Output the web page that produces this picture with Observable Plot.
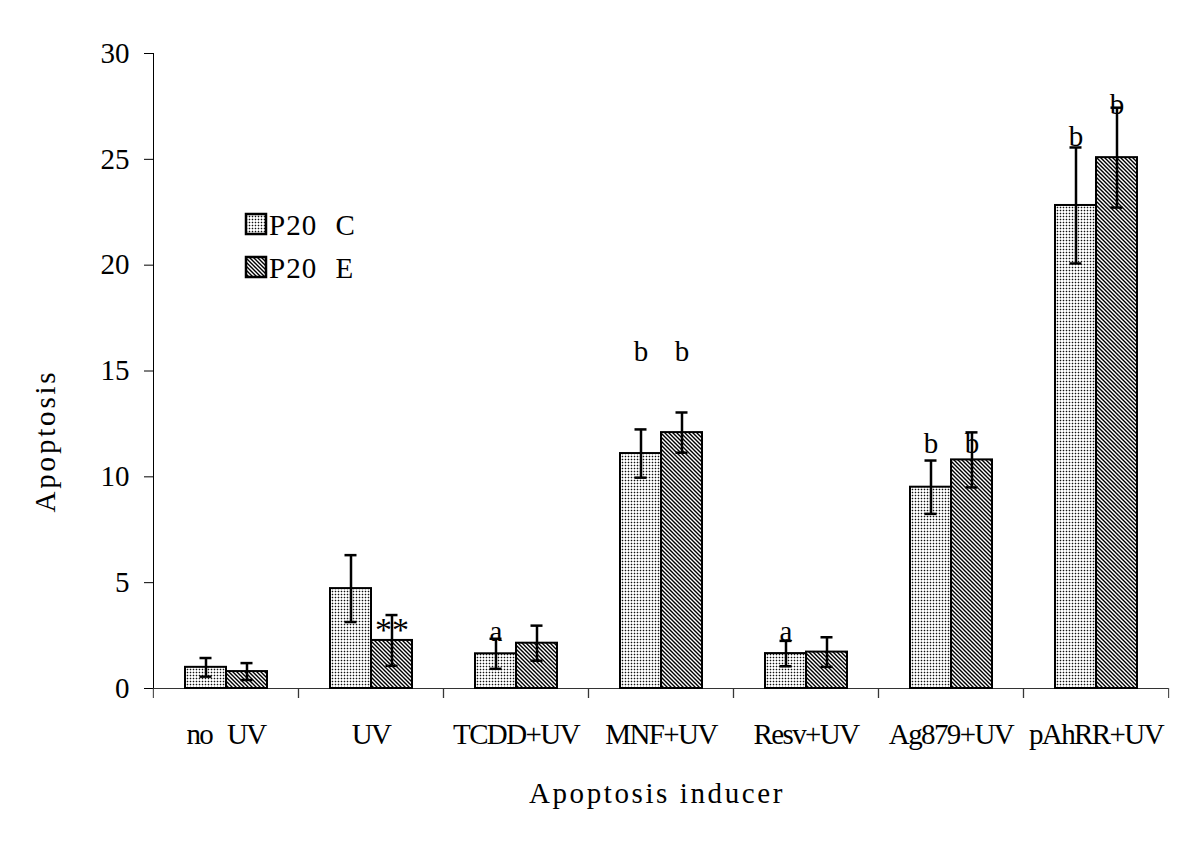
<!DOCTYPE html>
<html>
<head>
<meta charset="utf-8">
<script src="https://cdn.jsdelivr.net/npm/d3@7"></script>
<script src="https://cdn.jsdelivr.net/npm/@observablehq/plot@0.6"></script>
<style>
  html, body { margin: 0; padding: 0; background: #fff; }
  #wrap { position: relative; width: 1200px; height: 855px; overflow: hidden; }
  #overlay { position: absolute; left: 0; top: 0; pointer-events: none; }
  #defs { position: absolute; width: 0; height: 0; }
  g[aria-label="fx-axis tick label"] text { letter-spacing: -1.6px; word-spacing: 9px; }
</style>
</head>
<body>
<svg id="defs" width="0" height="0">
  <defs>
    <pattern id="dots" width="3" height="3" patternUnits="userSpaceOnUse">
      <rect width="3" height="3" fill="#ffffff"/>
      <rect width="3" height="1" fill="#c4c4c4"/>
      <rect width="1" height="3" fill="#c4c4c4"/>
      <rect width="1" height="1" fill="#111111"/>
    </pattern>
    <pattern id="hatch" width="4" height="4" patternUnits="userSpaceOnUse">
      <rect width="4" height="4" fill="#ffffff"/>
      <path d="M-1,-1 L5,5 M-1,3 L1,5 M3,-1 L5,1" stroke="#000" stroke-width="1.4"/>
    </pattern>
  </defs>
</svg>
<div id="wrap"></div>
<script>
// ---- data ----
const categories = ["no UV", "UV", "TCDD+UV", "MNF+UV", "Resv+UV", "Ag879+UV", "pAhRR+UV"];
const seriesNames = ["P20 C", "P20 E"];
const meansC = [1.0, 4.72, 1.64, 11.1, 1.65, 9.51, 22.82];
const errC   = [0.44, 1.58, 0.71, 1.14, 0.6, 1.26, 2.74];
const meansE = [0.8, 2.27, 2.14, 12.09, 1.72, 10.8, 25.08];
const errE   = [0.4, 1.2, 0.83, 0.95, 0.7, 1.3, 2.36];
const yTicks = [0, 5, 10, 15, 20, 25, 30];
// significance annotations
const annCategory = ["UV", "TCDD+UV", "MNF+UV", "MNF+UV", "Resv+UV", "Ag879+UV", "Ag879+UV", "pAhRR+UV", "pAhRR+UV"];
const annSeries   = ["P20 E", "P20 C", "P20 C", "P20 E", "P20 C", "P20 C", "P20 E", "P20 C", "P20 E"];
const annText     = ["**", "a", "b", "b", "a", "b", "b", "b", "b"];
const annY        = [2.75, 2.68, 15.9, 15.9, 2.68, 11.57, 11.57, 26.06, 27.57];

const data = categories.flatMap((c, i) => [
  {cat: c, series: seriesNames[0], value: meansC[i], err: errC[i]},
  {cat: c, series: seriesNames[1], value: meansE[i], err: errE[i]}
]);
const ann = annText.map((t, i) => ({cat: annCategory[i], series: annSeries[i], text: t, y: annY[i]}));

const W = 1200, H = 855, ML = 152, MR = 31, MT = 53, MB = 167;
const step = (W - ML - MR) / categories.length;
const FONT = "Liberation Serif, Times New Roman, serif";

const chart = Plot.plot({
  width: W, height: H,
  marginLeft: ML, marginRight: MR, marginTop: MT, marginBottom: MB,
  style: {fontFamily: FONT, fontSize: "29px", background: "#fff", color: "#000"},
  fx: {domain: categories, padding: 0, axis: null},
  x: {domain: seriesNames, paddingInner: 0, paddingOuter: 0.73, axis: null},
  y: {domain: [0, 30], ticks: yTicks, tickSize: 9, tickPadding: 15, line: true, label: null, grid: false},
  marks: [
    Plot.ruleY([0], {stroke: "#333", strokeWidth: 1.2}),
    Plot.axisFx({anchor: "bottom", tickSize: 0, tickPadding: 35, fontSize: 29, label: null}),
    Plot.axisFx({anchor: "bottom", tickSize: 10, tickFormat: () => "", dx: -step / 2, stroke: "#333", label: null}),
    Plot.axisFx({anchor: "bottom", tickSize: 10, tickFormat: () => "", dx: step / 2, stroke: "#333", label: null}),
    Plot.barY(data, {filter: d => d.series === seriesNames[0], fx: "cat", x: "series", y: "value",
      fill: "url(#dots)", stroke: "#000", strokeWidth: 2}),
    Plot.barY(data, {filter: d => d.series === seriesNames[1], fx: "cat", x: "series", y: "value",
      fill: "url(#hatch)", stroke: "#000", strokeWidth: 2}),
    Plot.ruleX(data, {fx: "cat", x: "series", y1: d => d.value - d.err, y2: d => d.value + d.err,
      stroke: "#000", strokeWidth: 2.5}),
    Plot.tickY(data, {fx: "cat", x: "series", y: d => d.value + d.err, insetLeft: 14.5, insetRight: 14.5,
      stroke: "#000", strokeWidth: 2.5}),
    Plot.tickY(data, {fx: "cat", x: "series", y: d => d.value - d.err, insetLeft: 14.5, insetRight: 14.5,
      stroke: "#000", strokeWidth: 2.5}),
    Plot.text(ann, {fx: "cat", x: "series", y: "y", text: "text", fontSize: d => d.text === "**" ? 34 : 29,
      lineAnchor: "middle", fill: "#000"})
  ]
});

const wrap = document.getElementById("wrap");
wrap.appendChild(chart);

// overlay: axis titles and legend
const ns = "http://www.w3.org/2000/svg";
const ov = document.createElementNS(ns, "svg");
ov.setAttribute("id", "overlay");
ov.setAttribute("width", W);
ov.setAttribute("height", H);
ov.style.fontFamily = FONT;
ov.style.fontSize = "29px";
function txt(s, attrs) {
  const t = document.createElementNS(ns, "text");
  for (const k in attrs) t.setAttribute(k, attrs[k]);
  t.textContent = s;
  ov.appendChild(t);
  return t;
}
function rect(attrs) {
  const r = document.createElementNS(ns, "rect");
  for (const k in attrs) r.setAttribute(k, attrs[k]);
  ov.appendChild(r);
}
txt("Apoptosis inducer", {x: 657, y: 803, "text-anchor": "middle", "letter-spacing": "2.6", fill: "#000"});
txt("Apoptosis", {transform: "translate(55,441) rotate(-90)", "text-anchor": "middle", "letter-spacing": "2.8", fill: "#000"});
const legendFills = ["url(#dots)", "url(#hatch)"];
const legendY = [214, 257];
seriesNames.forEach((s, i) => {
  rect({x: 246, y: legendY[i], width: 20, height: 20, fill: legendFills[i], stroke: "#000", "stroke-width": 2.5});
  txt(s, {x: 269, y: legendY[i] + 21, "word-spacing": "10", "letter-spacing": "1", fill: "#000"});
});
wrap.appendChild(ov);
</script>
</body>
</html>
